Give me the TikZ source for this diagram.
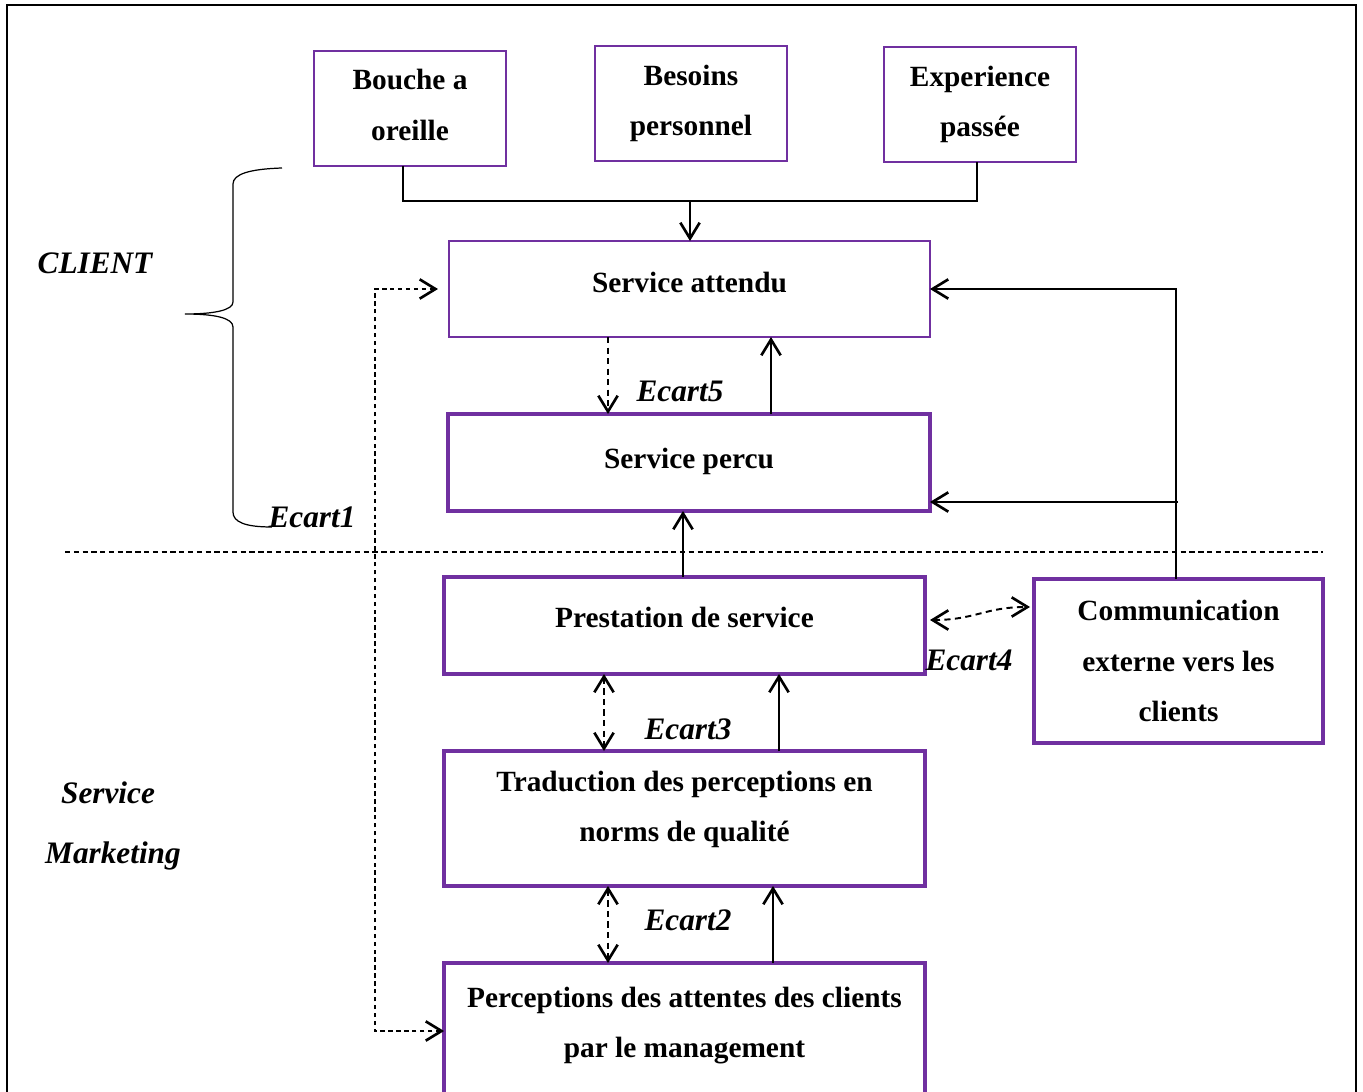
\documentclass[tikz,border=0pt]{standalone}
\usepackage{fontspec}
\setmainfont{Liberation Serif}
\usepackage{tikz}
\usetikzlibrary{calc,arrows.meta}
\definecolor{boxviolet}{HTML}{7030A0}
\newcommand{\lift}[1]{\rule[-#1]{0pt}{#1}}
\tikzset{
	boxthin/.style={draw=boxviolet, line width=1.1pt, align=center, outer sep=0pt, inner sep=0pt, font=\fontsize{16.7}{28.8}\selectfont\bfseries},
	boxthick/.style={boxthin, line width=2.6pt},
	ecart/.style={font=\fontsize{17.8}{20}\selectfont\bfseries\itshape},
	barb/.tip={Straight Barb[length=9pt,width=11pt,line width=1.5pt]},
	arr/.style={line width=1.1pt, -barb},
	dasharr/.style={line width=1.1pt, dash pattern=on 3.5pt off 2.5pt, barb-barb},
}

\begin{document}
\begin{tikzpicture}[x=0.02cm, y=-0.02cm]
		%%%%% START %%%%%
		\useasboundingbox (0,0) rectangle (1363,1092);
		\draw[line width=1.4pt] (7,5) rectangle (1356,1120);
		
		% client side
		\node[boxthin, minimum width=3.84cm, minimum height=2.3cm] (bouche) at (410,108.5) {Bouche a\\oreille\lift{4pt}};
		\node[boxthin, minimum width=3.84cm, minimum height=2.3cm] (besoins) at (691,103.5) {Besoins\\personnel};
		\node[boxthin, minimum width=3.84cm, minimum height=2.3cm] (experience) at (980,104.5) {Experience\\passée};
		\node[boxthin, minimum width=9.62cm, minimum height=1.92cm] (attendu) at (689.5,289) {Service attendu\lift{8pt}};
		\node[boxthick, minimum width=9.64cm, minimum height=1.94cm] (percu) at (689,462.5) {Service percu\lift{5pt}};
		
		% service side
		\node[boxthick, minimum width=9.62cm, minimum height=1.94cm] (prestation) at (684.5,625.5) {Prestation de service\lift{9pt}};
		\node[boxthick, minimum width=5.78cm, minimum height=3.28cm] (comm) at (1178.5,661) {Communication\\externe vers les\\clients};
		\node[boxthick, minimum width=9.62cm, minimum height=2.7cm] (trad) at (684.5,818.5) {Traduction des perceptions en\\norms de qualité\lift{14pt}};
		\node[boxthick, minimum width=9.62cm, minimum height=2.94cm] (percep) at (684.5,1036.5) {Perceptions des attentes des clients\\par le management\lift{16pt}};
		
		\node[ecart] (client) at (95,263) {CLIENT};
		\node[ecart] (service) at (108,793) {Service};
		\node[ecart] (marketing) at (113,856) {Marketing};
		\node[ecart] (ecart1) at (312,517) {Ecart1};
		\node[ecart] (ecart5) at (680,391) {Ecart5};
		\node[ecart] (ecart4) at (969,660) {Ecart4};
		\node[ecart] (ecart3) at (688,729) {Ecart3};
		\node[ecart] (ecart2) at (688,920) {Ecart2};
		
		% brace
		\draw[line width=0.7pt] (282,168) .. controls (250,169) and (233,174) .. (233,184) -- (233,302)
			.. controls (233,310) and (215,314) .. (185,314)
			.. controls (215,314) and (233,318) .. (233,327) -- (233,512)
			.. controls (233,522) and (245,527) .. (272,527);
		
		% separator
		\draw[line width=0.6pt, dash pattern=on 3pt off 2pt] (65,552) -- (1323,552);
		
		% inputs
		\coordinate (jl) at (403,201);
		\coordinate (jr) at (977,201);
		\coordinate (jm) at (690,201);
		\draw[line width=0.6pt] (bouche.south -| jl) -- (jl) -- (jr) -- (experience.south -| jr);
		\draw[arr] (jm) -- (attendu.north -| jm);
		
		% ecarts
		\coordinate (c5) at (608,0);
		\coordinate (u5) at (771,0);
		\draw[line width=1.1pt, dash pattern=on 3.5pt off 2.5pt, -barb] (attendu.south -| c5) -- (percu.north -| c5);
		\draw[arr] (percu.north -| u5) -- (attendu.south -| u5);
		\coordinate (up) at (683,0);
		\draw[arr] (prestation.north -| up) -- (percu.south -| up);
		
		\coordinate (c3) at (604,0);
		\coordinate (u3) at (779,0);
		\draw[dasharr] (prestation.south -| c3) -- (trad.north -| c3);
		\draw[arr] (trad.north -| u3) -- (prestation.south -| u3);
		
		\coordinate (c2) at (608,0);
		\coordinate (u2) at (773,0);
		\draw[dasharr] (trad.south -| c2) -- (percep.north -| c2);
		\draw[arr] (percep.north -| u2) -- (trad.south -| u2);
		
		\coordinate (e4a) at (930,620);
		\coordinate (e4b) at (1030,607);
		\draw[dasharr] (e4a) .. controls (975,620) and (985,607) .. (e4b);
		
		% communication feedback
		\coordinate (cr) at (1176,289);
		\coordinate (cr2) at (1178,502);
		\draw[arr] (comm.north -| cr) -- (cr) -- (attendu.east);
		\draw[arr] (cr2) -- (cr2 -| percu.east);
		
		% ecart1
		\coordinate (e1t) at (375,289);
		\coordinate (e1b) at (375,1031);
		\coordinate (e1a) at (438,289);
		\draw[line width=0.7pt, dash pattern=on 2.5pt off 2pt, barb-barb] (percep.west |- e1b) -- (e1b) -- (e1t) -- (e1a);
		
		%%%%% END %%%%%
	\end{tikzpicture}
\end{document}
